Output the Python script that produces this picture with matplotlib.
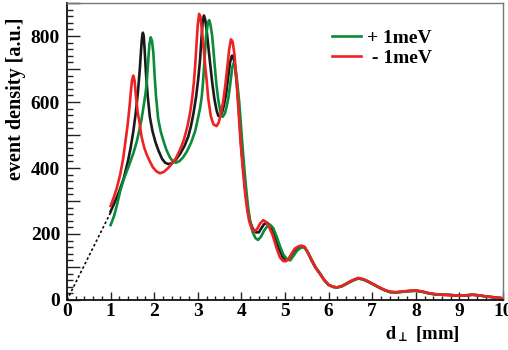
import matplotlib
matplotlib.use("Agg")
import matplotlib.pyplot as plt
from matplotlib.ticker import MultipleLocator, FuncFormatter

plt.rcParams["font.family"] = ["Liberation Serif", "DejaVu Serif"]
plt.rcParams["font.weight"] = "bold"
plt.rcParams["mathtext.fontset"] = "stix"

# nominal distribution
x_nom = [1.00, 1.10, 1.20, 1.30, 1.40, 1.46, 1.52, 1.58, 1.63, 1.67, 1.70, 1.72,
         1.74, 1.76, 1.78, 1.81, 1.85, 1.90, 1.96, 2.03, 2.10, 2.18, 2.25, 2.32,
         2.40, 2.50, 2.60, 2.70, 2.78, 2.84, 2.90, 2.96, 3.01, 3.05, 3.08, 3.11,
         3.14, 3.17, 3.20, 3.24, 3.28, 3.33, 3.38, 3.43, 3.47, 3.51, 3.55, 3.60,
         3.65, 3.70, 3.74, 3.78, 3.81, 3.85, 3.90, 3.95, 4.00, 4.05, 4.10, 4.15,
         4.20, 4.26, 4.33, 4.40, 4.46, 4.52, 4.59, 4.65, 4.72, 4.80, 4.88, 4.95,
         5.02, 5.08, 5.15, 5.22, 5.30, 5.38, 5.45, 5.52, 5.60, 5.70, 5.80, 5.90,
         6.00, 6.10, 6.19, 6.30, 6.40, 6.50, 6.60, 6.68, 6.80, 6.90, 7.00, 7.10,
         7.20, 7.30, 7.41, 7.55, 7.70, 7.85, 8.00, 8.15, 8.30, 8.45, 8.60, 8.80,
         9.00, 9.15, 9.30, 9.45, 9.60, 9.80, 10.0]
y_nom = [268, 298, 330, 368, 422, 462, 510, 570, 635, 700, 760, 795,
         810, 800, 760, 690, 620, 555, 512, 478, 452, 428, 416, 412,
         414, 426, 444, 468, 495, 525, 565, 615, 670, 725, 785, 840,
         862, 850, 820, 770, 720, 660, 610, 575, 558, 556, 565, 590,
         625, 680, 720, 740, 740, 712, 650, 560, 460, 385, 320, 270,
         238, 216, 205, 205, 218, 230, 234, 226, 210, 180, 150, 130,
         121, 124, 137, 150, 158, 162, 160, 145, 122, 98, 80, 60,
         46, 40, 38, 42, 49, 56, 62, 66, 62, 56, 49, 42,
         35, 29, 24, 23, 25, 27, 28, 25, 20, 17, 16, 15,
         13, 14, 16, 14, 11, 8, 5]

# shifted by +1 meV
x_plus = [1.00, 1.08, 1.15, 1.22, 1.30, 1.40, 1.52, 1.60, 1.66, 1.71, 1.76, 1.80,
          1.83, 1.86, 1.89, 1.92, 1.95, 1.98, 2.01, 2.04, 2.09, 2.15, 2.21, 2.28,
          2.36, 2.43, 2.50, 2.58, 2.66, 2.75, 2.85, 2.94, 3.00, 3.05, 3.09, 3.12,
          3.15, 3.19, 3.23, 3.26, 3.29, 3.33, 3.36, 3.39, 3.43, 3.47, 3.52, 3.57,
          3.62, 3.66, 3.70, 3.74, 3.79, 3.82, 3.86, 3.90, 3.95, 4.00, 4.05, 4.10,
          4.15, 4.20, 4.26, 4.32, 4.38, 4.45, 4.52, 4.59, 4.66, 4.73, 4.80, 4.88,
          4.96, 5.04, 5.12, 5.20, 5.28, 5.36, 5.43, 5.50, 5.58, 5.70, 5.80, 5.90,
          6.00, 6.10, 6.19, 6.30, 6.40, 6.50, 6.60, 6.68, 6.80, 6.90, 7.00, 7.10,
          7.20, 7.30, 7.41, 7.55, 7.70, 7.85, 8.00, 8.15, 8.30, 8.45, 8.60, 8.80,
          9.00, 9.15, 9.30, 9.45, 9.60, 9.80, 10.0]
y_plus = [227, 255, 290, 330, 365, 400, 444, 480, 515, 548, 590, 625,
          660, 720, 775, 796, 785, 750, 680, 620, 550, 510, 483, 455,
          432, 420, 416, 421, 432, 450, 478, 512, 548, 580, 615, 660,
          720, 800, 838, 848, 835, 800, 755, 707, 650, 606, 570, 555,
          565, 585, 612, 650, 705, 717, 705, 665, 600, 510, 425, 350,
          285, 238, 205, 188, 182, 192, 210, 223, 228, 218, 195, 165,
          138, 124, 120, 135, 150, 158, 160, 150, 130, 100, 81, 61,
          46, 40, 38, 41, 48, 55, 61, 65, 62, 56, 49, 42,
          35, 29, 24, 23, 25, 27, 28, 25, 20, 17, 16, 15,
          13, 14, 16, 14, 11, 8, 5]

# shifted by -1 meV
x_minus = [1.00, 1.07, 1.14, 1.22, 1.29, 1.34, 1.39, 1.43, 1.46, 1.49, 1.52, 1.55,
           1.58, 1.62, 1.66, 1.71, 1.77, 1.83, 1.90, 1.97, 2.05, 2.13, 2.22, 2.32,
           2.40, 2.50, 2.59, 2.68, 2.76, 2.82, 2.87, 2.91, 2.94, 2.97, 3.00, 3.03,
           3.06, 3.10, 3.14, 3.17, 3.20, 3.24, 3.30, 3.36, 3.43, 3.48, 3.53, 3.58,
           3.63, 3.68, 3.72, 3.76, 3.80, 3.84, 3.88, 3.93, 3.98, 4.03, 4.08, 4.13,
           4.18, 4.24, 4.30, 4.36, 4.43, 4.50, 4.57, 4.64, 4.72, 4.80, 4.88, 4.95,
           5.01, 5.07, 5.15, 5.22, 5.30, 5.38, 5.45, 5.52, 5.60, 5.70, 5.80, 5.90,
           6.00, 6.10, 6.19, 6.30, 6.40, 6.50, 6.60, 6.68, 6.80, 6.90, 7.00, 7.10,
           7.20, 7.30, 7.41, 7.55, 7.70, 7.85, 8.00, 8.15, 8.30, 8.45, 8.60, 8.80,
           9.00, 9.15, 9.30, 9.45, 9.60, 9.80, 10.0]
y_minus = [285, 310, 338, 380, 430, 480, 530, 580, 625, 665, 680, 665,
           620, 570, 540, 495, 462, 440, 420, 402, 390, 384, 388, 400,
           412, 430, 455, 485, 525, 565, 610, 660, 710, 775, 835, 867,
           858, 810, 755, 707, 670, 610, 556, 532, 527, 538, 565, 600,
           650, 710, 760, 790, 782, 745, 680, 580, 480, 400, 330, 275,
           238, 215, 208, 215, 232, 242, 236, 220, 195, 160, 130, 119,
           117, 122, 140, 155, 162, 165, 161, 145, 124, 99, 80, 60,
           46, 40, 38, 42, 49, 57, 63, 67, 63, 57, 50, 43,
           36, 30, 25, 24, 26, 28, 29, 26, 21, 18, 16, 15,
           13, 14, 16, 14, 11, 8, 5]

# extrapolation towards the origin
x_extra = [0.0, 1.0]
y_extra = [0, 265]

fig = plt.figure(figsize=(5.08, 3.5), dpi=100)
ax = fig.add_axes([67 / 508, 50 / 350, 436 / 508, 297 / 350])

lw = 1.9
ax.plot(x_extra, y_extra, color="black", lw=1.2, ls=(0, (1.5, 1.5)))
ax.plot(x_nom, y_nom, color="#1a1a1a", lw=lw)
ax.plot(x_plus, y_plus, color="#0b8a3a", lw=lw, label="+ 1meV")
ax.plot(x_minus, y_minus, color="#ee2222", lw=lw, label=" - 1meV")

ax.set_xlim(0, 10)
ax.set_ylim(0, 900)

ax.xaxis.set_major_locator(MultipleLocator(1))
ax.xaxis.set_minor_locator(MultipleLocator(0.2))
ax.yaxis.set_major_locator(MultipleLocator(100))
ax.yaxis.set_minor_locator(MultipleLocator(20))
ax.yaxis.set_major_formatter(
    FuncFormatter(lambda v, p: f"{int(round(v))}" if round(v) % 200 == 0 else ""))

ax.tick_params(axis="both", which="both", direction="in", top=False, right=False,
               labelsize=14, width=1.0, color="#222222")
ax.tick_params(axis="y", which="major", length=9, pad=5)
ax.tick_params(axis="y", which="minor", length=4.5)
ax.tick_params(axis="x", which="major", length=6, pad=2)
ax.tick_params(axis="x", which="minor", length=3)
for lab in ax.get_xticklabels() + ax.get_yticklabels():
    lab.set_fontweight("bold")

for side in ("left", "bottom"):
    ax.spines[side].set_linewidth(1.3)
    ax.spines[side].set_color("#111111")
for side in ("top", "right"):
    ax.spines[side].set_linewidth(1.0)
    ax.spines[side].set_color("#777777")

ax.set_ylabel("event density [a.u.]", fontsize=14.5, fontweight="bold", loc="top")
ax.yaxis.set_label_coords(-0.093, 0.95)
ax.set_xlabel(r"$\mathbf{d}_{\bot}$ [mm]", fontsize=13.5, fontweight="bold", loc="right")
ax.xaxis.set_label_coords(0.9, -0.08)

ax.legend(loc="upper left", bbox_to_anchor=(0.607, 0.912), frameon=False,
          prop={"weight": "bold", "size": 14},
          handlelength=1.5, handletextpad=0.3, labelspacing=0.12,
          borderpad=0.0, borderaxespad=0.0)

fig.savefig("out.png", dpi=100)
